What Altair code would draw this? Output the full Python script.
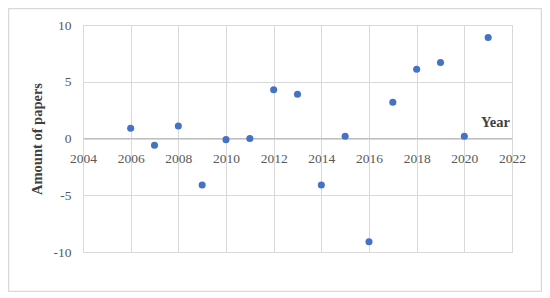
import altair as alt
import pandas as pd

years = [2006, 2007, 2008, 2009, 2010, 2011, 2012, 2013, 2014, 2015, 2016, 2017, 2018, 2019, 2020, 2021]
papers = [0.9, -0.6, 1.1, -4.1, -0.1, 0.0, 4.3, 3.9, -4.1, 0.2, -9.1, 3.2, 6.1, 6.7, 0.2, 8.9]

df = pd.DataFrame({"Year": years, "Papers": papers})

FONT = "Liberation Serif"
GRID = "#d9d9d9"

points = alt.Chart(df).mark_circle(size=50, color="#4472C4", opacity=1).encode(
    x=alt.X("Year:Q",
            scale=alt.Scale(domain=[2004, 2022], nice=False, zero=False),
            axis=alt.Axis(values=list(range(2004, 2023, 2)), format="d",
                          offset=-114, ticks=False, labelPadding=13, labelFlush=False,
                          domainColor="#bfbfbf", gridColor=GRID,
                          labelFont=FONT, labelFontSize=13.5, labelColor="#595959",
                          title="Year", titleFont=FONT, titleFontSize=14.5,
                          titleFontWeight="bold", titleColor="#404040",
                          titleX=412, titleY=-16, titleAlign="center",
                          titleBaseline="middle")),
    y=alt.Y("Papers:Q",
            scale=alt.Scale(domain=[-10, 10], nice=False),
            axis=alt.Axis(values=[-10, -5, 0, 5, 10], ticks=False, labelPadding=12,
                          labelFlush=False, labelExpr="datum.value + ''",
                          domainColor=GRID, gridColor=GRID,
                          labelFont=FONT, labelFontSize=13.5, labelColor="#595959",
                          title="Amount of papers", titleFont=FONT, titleFontSize=14.5,
                          titleFontWeight="bold", titleColor="#404040",
                          titleX=-46, titleY=113.5, titleAngle=-90,
                          titleAlign="center", titleBaseline="middle")),
)

border = alt.Chart(pd.DataFrame({"a": [0]})).mark_rect(
    fill=None, stroke=GRID, strokeWidth=1.5
).encode(
    x=alt.value(-74.5), x2=alt.value(458.5),
    y=alt.value(-16.5), y2=alt.value(266.5),
)

chart = alt.layer(border, points).properties(
    width=429, height=227,
    autosize=alt.AutoSizeParams(type="none"),
    padding={"left": 75, "top": 17, "right": 30, "bottom": 40},
).configure_view(stroke=None).configure(background="white")

chart.save("out.html", embed_options={"renderer": "svg", "actions": False})
